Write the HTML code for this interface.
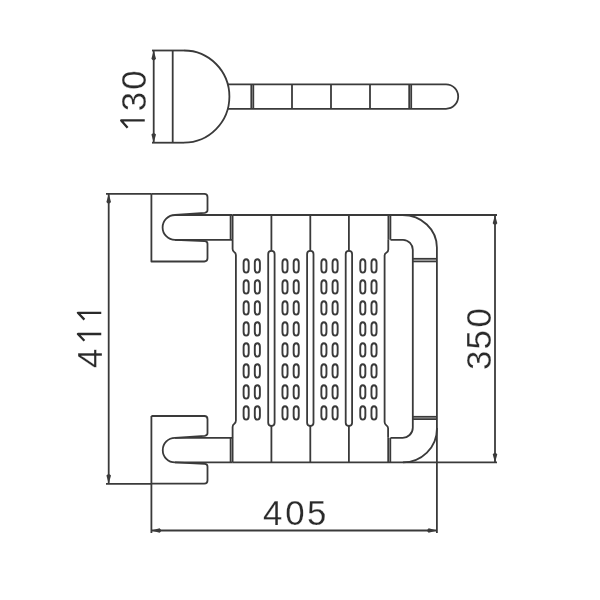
<!DOCTYPE html>
<html><head><meta charset="utf-8"><style>
html,body{margin:0;padding:0;background:#fff;width:600px;height:600px;overflow:hidden;}
svg{position:absolute;left:0;top:0;will-change:transform;}
</style></head><body>
<svg width="600" height="600" viewBox="0 0 600 600">
<g stroke="#3a3a3a" fill="none" stroke-linecap="butt" stroke-linejoin="round" font-family="Liberation Sans, sans-serif">
<line x1="153.7" y1="50.5" x2="153.7" y2="142.7" stroke-width="1.8"/>
<path d="M153.7,50.5 L151.39999999999998,58.7 Q153.7,61.7 156.0,58.7 Z" fill="#3a3a3a" stroke="none"/>
<path d="M153.7,142.7 L151.39999999999998,134.5 Q153.7,131.5 156.0,134.5 Z" fill="#3a3a3a" stroke="none"/>
<line x1="152" y1="50.5" x2="184" y2="50.5" stroke-width="1.8"/>
<line x1="152" y1="142.7" x2="184" y2="142.7" stroke-width="1.8"/>
<line x1="172.7" y1="50.5" x2="172.7" y2="142.7" stroke-width="1.8"/>
<path d="M184,50.5 A45.4,46.1 0 0 1 184,142.7" stroke-width="1.8"/>
<path d="M227.8,84.4 H446 A12.2,12.2 0 0 1 446,108.8 H227.8" stroke-width="1.8"/>
<line x1="251.3" y1="84.4" x2="251.3" y2="108.8" stroke-width="1.8"/>
<line x1="253.3" y1="84.4" x2="253.3" y2="108.8" stroke-width="1.8"/>
<line x1="292" y1="84.4" x2="292" y2="108.8" stroke-width="1.8"/>
<line x1="331" y1="84.4" x2="331" y2="108.8" stroke-width="1.8"/>
<line x1="370" y1="84.4" x2="370" y2="108.8" stroke-width="1.8"/>
<line x1="409.2" y1="84.4" x2="409.2" y2="108.8" stroke-width="1.8"/>
<line x1="411.2" y1="84.4" x2="411.2" y2="108.8" stroke-width="1.8"/>
<line x1="108.7" y1="193.8" x2="108.7" y2="483.8" stroke-width="1.8"/>
<path d="M108.7,193.8 L106.4,202.0 Q108.7,205.0 111.0,202.0 Z" fill="#3a3a3a" stroke="none"/>
<path d="M108.7,483.8 L106.4,475.6 Q108.7,472.6 111.0,475.6 Z" fill="#3a3a3a" stroke="none"/>
<line x1="106" y1="193.8" x2="151.4" y2="193.8" stroke-width="1.8"/>
<line x1="106" y1="483.8" x2="151.4" y2="483.8" stroke-width="1.8"/>
<path d="M151.4,193.8 H204.3 Q207.5,193.8 207.5,197.0 V210.3 Q207.5,212.5 204.7,212.8 L175,215.0" stroke-width="1.8"/>
<path d="M151.4,193.8 V261.5 H204.3 Q207.5,261.5 207.5,258.3 V243.7 Q207.5,241.5 204.7,241.2 L175,239.8" stroke-width="1.8"/>
<path d="M175,215.0 A12.400000000000006,12.400000000000006 0 0 0 175,239.8 H232.6" stroke-width="1.8"/>
<line x1="175" y1="215.0" x2="232.6" y2="215.0" stroke-width="1.8"/>
<line x1="230.6" y1="215.0" x2="230.6" y2="239.8" stroke-width="1.8"/>
<line x1="232.6" y1="215.0" x2="232.6" y2="239.8" stroke-width="1.8"/>
<path d="M151.4,416.0 H204.3 Q207.5,416.0 207.5,419.2 V433.3 Q207.5,435.5 204.7,435.8 L175,437.9" stroke-width="1.8"/>
<path d="M151.4,416.0 V483.6 H204.3 Q207.5,483.6 207.5,480.40000000000003 V466.4 Q207.5,464.2 204.7,463.9 L175,462.4" stroke-width="1.8"/>
<path d="M175,437.9 A12.25,12.25 0 0 0 175,462.4 H232.6" stroke-width="1.8"/>
<line x1="175" y1="437.9" x2="232.6" y2="437.9" stroke-width="1.8"/>
<line x1="230.6" y1="437.9" x2="230.6" y2="462.4" stroke-width="1.8"/>
<line x1="232.6" y1="437.9" x2="232.6" y2="462.4" stroke-width="1.8"/>
<line x1="232.6" y1="215.0" x2="497" y2="215.0" stroke-width="1.8"/>
<line x1="232.6" y1="462.4" x2="497" y2="462.4" stroke-width="1.8"/>
<path d="M232.6,239.8 V249 Q232.6,251 234.2,252 Q235.9,253 235.9,255 V420.5 Q235.9,422.5 234.3,423.8 Q232.6,425 232.6,427 V437.9" stroke-width="1.8"/>
<path d="M388.3,239.8 V249.5 Q388.3,251.5 386.6,252.5 Q384.6,253.5 384.6,255.5 V422 Q384.6,424 386.3,425.2 Q388.1,426.3 388.1,428.3 V437.8" stroke-width="1.8"/>
<line x1="388.4" y1="215.0" x2="388.4" y2="239.8" stroke-width="1.8"/>
<line x1="390.4" y1="215.0" x2="390.4" y2="239.8" stroke-width="1.8"/>
<line x1="388.2" y1="437.8" x2="388.2" y2="462.4" stroke-width="1.8"/>
<line x1="390.3" y1="437.8" x2="390.3" y2="462.4" stroke-width="1.8"/>
<line x1="271.4" y1="215.0" x2="271.4" y2="250.8" stroke-width="1.8"/>
<line x1="271.4" y1="426" x2="271.4" y2="462.4" stroke-width="1.8"/>
<path d="M268.2,422.8 V254 A3.2,3.2 0 0 1 274.59999999999997,254 V422.8 A3.2,3.2 0 0 1 268.2,422.8 Z" stroke-width="1.8"/>
<line x1="310.3" y1="215.0" x2="310.3" y2="250.8" stroke-width="1.8"/>
<line x1="310.3" y1="426" x2="310.3" y2="462.4" stroke-width="1.8"/>
<path d="M307.1,422.8 V254 A3.2,3.2 0 0 1 313.5,254 V422.8 A3.2,3.2 0 0 1 307.1,422.8 Z" stroke-width="1.8"/>
<line x1="348.9" y1="215.0" x2="348.9" y2="250.8" stroke-width="1.8"/>
<line x1="348.9" y1="426" x2="348.9" y2="462.4" stroke-width="1.8"/>
<path d="M345.7,422.8 V254 A3.2,3.2 0 0 1 352.09999999999997,254 V422.8 A3.2,3.2 0 0 1 345.7,422.8 Z" stroke-width="1.8"/>
<rect x="243.60" y="259.20" width="5.1" height="13.4" rx="2.55" ry="3.6" stroke-width="1.9"/>
<rect x="243.60" y="280.20" width="5.1" height="13.4" rx="2.55" ry="3.6" stroke-width="1.9"/>
<rect x="243.60" y="301.20" width="5.1" height="13.4" rx="2.55" ry="3.6" stroke-width="1.9"/>
<rect x="243.60" y="322.20" width="5.1" height="13.4" rx="2.55" ry="3.6" stroke-width="1.9"/>
<rect x="243.60" y="343.20" width="5.1" height="13.4" rx="2.55" ry="3.6" stroke-width="1.9"/>
<rect x="243.60" y="364.20" width="5.1" height="13.4" rx="2.55" ry="3.6" stroke-width="1.9"/>
<rect x="243.60" y="385.20" width="5.1" height="13.4" rx="2.55" ry="3.6" stroke-width="1.9"/>
<rect x="243.60" y="406.20" width="5.1" height="13.4" rx="2.55" ry="3.6" stroke-width="1.9"/>
<rect x="254.80" y="259.20" width="5.1" height="13.4" rx="2.55" ry="3.6" stroke-width="1.9"/>
<rect x="254.80" y="280.20" width="5.1" height="13.4" rx="2.55" ry="3.6" stroke-width="1.9"/>
<rect x="254.80" y="301.20" width="5.1" height="13.4" rx="2.55" ry="3.6" stroke-width="1.9"/>
<rect x="254.80" y="322.20" width="5.1" height="13.4" rx="2.55" ry="3.6" stroke-width="1.9"/>
<rect x="254.80" y="343.20" width="5.1" height="13.4" rx="2.55" ry="3.6" stroke-width="1.9"/>
<rect x="254.80" y="364.20" width="5.1" height="13.4" rx="2.55" ry="3.6" stroke-width="1.9"/>
<rect x="254.80" y="385.20" width="5.1" height="13.4" rx="2.55" ry="3.6" stroke-width="1.9"/>
<rect x="254.80" y="406.20" width="5.1" height="13.4" rx="2.55" ry="3.6" stroke-width="1.9"/>
<rect x="282.45" y="259.20" width="5.1" height="13.4" rx="2.55" ry="3.6" stroke-width="1.9"/>
<rect x="282.45" y="280.20" width="5.1" height="13.4" rx="2.55" ry="3.6" stroke-width="1.9"/>
<rect x="282.45" y="301.20" width="5.1" height="13.4" rx="2.55" ry="3.6" stroke-width="1.9"/>
<rect x="282.45" y="322.20" width="5.1" height="13.4" rx="2.55" ry="3.6" stroke-width="1.9"/>
<rect x="282.45" y="343.20" width="5.1" height="13.4" rx="2.55" ry="3.6" stroke-width="1.9"/>
<rect x="282.45" y="364.20" width="5.1" height="13.4" rx="2.55" ry="3.6" stroke-width="1.9"/>
<rect x="282.45" y="385.20" width="5.1" height="13.4" rx="2.55" ry="3.6" stroke-width="1.9"/>
<rect x="282.45" y="406.20" width="5.1" height="13.4" rx="2.55" ry="3.6" stroke-width="1.9"/>
<rect x="293.65" y="259.20" width="5.1" height="13.4" rx="2.55" ry="3.6" stroke-width="1.9"/>
<rect x="293.65" y="280.20" width="5.1" height="13.4" rx="2.55" ry="3.6" stroke-width="1.9"/>
<rect x="293.65" y="301.20" width="5.1" height="13.4" rx="2.55" ry="3.6" stroke-width="1.9"/>
<rect x="293.65" y="322.20" width="5.1" height="13.4" rx="2.55" ry="3.6" stroke-width="1.9"/>
<rect x="293.65" y="343.20" width="5.1" height="13.4" rx="2.55" ry="3.6" stroke-width="1.9"/>
<rect x="293.65" y="364.20" width="5.1" height="13.4" rx="2.55" ry="3.6" stroke-width="1.9"/>
<rect x="293.65" y="385.20" width="5.1" height="13.4" rx="2.55" ry="3.6" stroke-width="1.9"/>
<rect x="293.65" y="406.20" width="5.1" height="13.4" rx="2.55" ry="3.6" stroke-width="1.9"/>
<rect x="321.35" y="259.20" width="5.1" height="13.4" rx="2.55" ry="3.6" stroke-width="1.9"/>
<rect x="321.35" y="280.20" width="5.1" height="13.4" rx="2.55" ry="3.6" stroke-width="1.9"/>
<rect x="321.35" y="301.20" width="5.1" height="13.4" rx="2.55" ry="3.6" stroke-width="1.9"/>
<rect x="321.35" y="322.20" width="5.1" height="13.4" rx="2.55" ry="3.6" stroke-width="1.9"/>
<rect x="321.35" y="343.20" width="5.1" height="13.4" rx="2.55" ry="3.6" stroke-width="1.9"/>
<rect x="321.35" y="364.20" width="5.1" height="13.4" rx="2.55" ry="3.6" stroke-width="1.9"/>
<rect x="321.35" y="385.20" width="5.1" height="13.4" rx="2.55" ry="3.6" stroke-width="1.9"/>
<rect x="321.35" y="406.20" width="5.1" height="13.4" rx="2.55" ry="3.6" stroke-width="1.9"/>
<rect x="332.55" y="259.20" width="5.1" height="13.4" rx="2.55" ry="3.6" stroke-width="1.9"/>
<rect x="332.55" y="280.20" width="5.1" height="13.4" rx="2.55" ry="3.6" stroke-width="1.9"/>
<rect x="332.55" y="301.20" width="5.1" height="13.4" rx="2.55" ry="3.6" stroke-width="1.9"/>
<rect x="332.55" y="322.20" width="5.1" height="13.4" rx="2.55" ry="3.6" stroke-width="1.9"/>
<rect x="332.55" y="343.20" width="5.1" height="13.4" rx="2.55" ry="3.6" stroke-width="1.9"/>
<rect x="332.55" y="364.20" width="5.1" height="13.4" rx="2.55" ry="3.6" stroke-width="1.9"/>
<rect x="332.55" y="385.20" width="5.1" height="13.4" rx="2.55" ry="3.6" stroke-width="1.9"/>
<rect x="332.55" y="406.20" width="5.1" height="13.4" rx="2.55" ry="3.6" stroke-width="1.9"/>
<rect x="360.25" y="259.20" width="5.1" height="13.4" rx="2.55" ry="3.6" stroke-width="1.9"/>
<rect x="360.25" y="280.20" width="5.1" height="13.4" rx="2.55" ry="3.6" stroke-width="1.9"/>
<rect x="360.25" y="301.20" width="5.1" height="13.4" rx="2.55" ry="3.6" stroke-width="1.9"/>
<rect x="360.25" y="322.20" width="5.1" height="13.4" rx="2.55" ry="3.6" stroke-width="1.9"/>
<rect x="360.25" y="343.20" width="5.1" height="13.4" rx="2.55" ry="3.6" stroke-width="1.9"/>
<rect x="360.25" y="364.20" width="5.1" height="13.4" rx="2.55" ry="3.6" stroke-width="1.9"/>
<rect x="360.25" y="385.20" width="5.1" height="13.4" rx="2.55" ry="3.6" stroke-width="1.9"/>
<rect x="360.25" y="406.20" width="5.1" height="13.4" rx="2.55" ry="3.6" stroke-width="1.9"/>
<rect x="371.45" y="259.20" width="5.1" height="13.4" rx="2.55" ry="3.6" stroke-width="1.9"/>
<rect x="371.45" y="280.20" width="5.1" height="13.4" rx="2.55" ry="3.6" stroke-width="1.9"/>
<rect x="371.45" y="301.20" width="5.1" height="13.4" rx="2.55" ry="3.6" stroke-width="1.9"/>
<rect x="371.45" y="322.20" width="5.1" height="13.4" rx="2.55" ry="3.6" stroke-width="1.9"/>
<rect x="371.45" y="343.20" width="5.1" height="13.4" rx="2.55" ry="3.6" stroke-width="1.9"/>
<rect x="371.45" y="364.20" width="5.1" height="13.4" rx="2.55" ry="3.6" stroke-width="1.9"/>
<rect x="371.45" y="385.20" width="5.1" height="13.4" rx="2.55" ry="3.6" stroke-width="1.9"/>
<rect x="371.45" y="406.20" width="5.1" height="13.4" rx="2.55" ry="3.6" stroke-width="1.9"/>
<path d="M390.5,239.8 H403 A10,10 0 0 1 412.8,250 V427.5 A10.2,10.2 0 0 1 402,437.8 H390.5" stroke-width="1.8"/>
<path d="M397,215.0 H402.5 A34.4,32.5 0 0 1 436.9,247.5 V429 A34,33.4 0 0 1 402.9,462.4" stroke-width="1.8"/>
<line x1="412.8" y1="258.8" x2="436.9" y2="258.8" stroke-width="1.8"/>
<line x1="412.8" y1="261.4" x2="436.9" y2="261.4" stroke-width="1.8"/>
<line x1="412.8" y1="416.8" x2="436.9" y2="416.8" stroke-width="1.8"/>
<line x1="412.8" y1="419.1" x2="436.9" y2="419.1" stroke-width="1.8"/>
<line x1="495" y1="215.0" x2="495" y2="462.4" stroke-width="1.8"/>
<path d="M495,215.0 L492.7,223.2 Q495,226.2 497.3,223.2 Z" fill="#3a3a3a" stroke="none"/>
<path d="M495,462.4 L492.7,454.2 Q495,451.2 497.3,454.2 Z" fill="#3a3a3a" stroke="none"/>
<line x1="151.4" y1="483.6" x2="151.4" y2="533" stroke-width="1.8"/>
<line x1="436.9" y1="428" x2="436.9" y2="533" stroke-width="1.8"/>
<line x1="151.4" y1="530.5" x2="436.9" y2="530.5" stroke-width="1.8"/>
<path d="M151.4,530.5 L159.6,528.2 Q162.6,530.5 159.6,532.8 Z" fill="#3a3a3a" stroke="none"/>
<path d="M436.9,530.5 L428.7,528.2 Q425.7,530.5 428.7,532.8 Z" fill="#3a3a3a" stroke="none"/>
<text x="272.6" y="524.8" text-anchor="middle" font-size="34.8" fill="#2a2a2a" stroke="#fff" stroke-width="0.25">4</text>
<text x="294.95" y="524.8" text-anchor="middle" font-size="34.8" fill="#2a2a2a" stroke="#fff" stroke-width="0.25">0</text>
<text x="316.6" y="524.8" text-anchor="middle" font-size="34.8" fill="#2a2a2a" stroke="#fff" stroke-width="0.25">5</text>
<path d="M127.6,127.8 L121.2,120.4 L144.75,120.4" stroke="#2a2a2a" stroke-width="2.3" stroke-linejoin="round" stroke-linecap="butt"/>
<text transform="translate(145.7,101.5) rotate(-90)" x="0" y="0" text-anchor="middle" font-size="34.8" fill="#2a2a2a" stroke="#fff" stroke-width="0.25">3</text>
<text transform="translate(145.7,80.1) rotate(-90)" x="0" y="0" text-anchor="middle" font-size="34.8" fill="#2a2a2a" stroke="#fff" stroke-width="0.25">0</text>
<text transform="translate(101.6,358.3) rotate(-90)" x="0" y="0" text-anchor="middle" font-size="34.8" fill="#2a2a2a" stroke="#fff" stroke-width="0.25">4</text>
<path d="M84.4,319.6 L77.9,312.8 L101.25,312.8" stroke="#2a2a2a" stroke-width="2.3" stroke-linejoin="round" stroke-linecap="butt"/>
<path d="M84.4,340.8 L77.9,334.0 L101.25,334.0" stroke="#2a2a2a" stroke-width="2.3" stroke-linejoin="round" stroke-linecap="butt"/>
<text transform="translate(490.6,360.4) rotate(-90)" x="0" y="0" text-anchor="middle" font-size="34.8" fill="#2a2a2a" stroke="#fff" stroke-width="0.25">3</text>
<text transform="translate(490.6,339.85) rotate(-90)" x="0" y="0" text-anchor="middle" font-size="34.8" fill="#2a2a2a" stroke="#fff" stroke-width="0.25">5</text>
<text transform="translate(490.6,317.8) rotate(-90)" x="0" y="0" text-anchor="middle" font-size="34.8" fill="#2a2a2a" stroke="#fff" stroke-width="0.25">0</text>
</g></svg>
</body></html>
